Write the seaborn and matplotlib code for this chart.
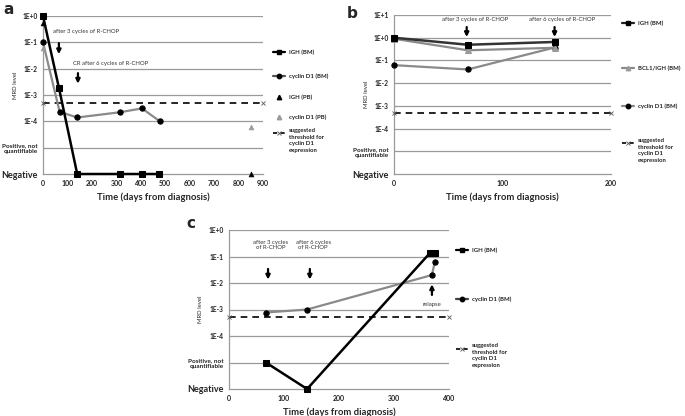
import numpy as np
import pandas as pd
import matplotlib
matplotlib.use('Agg')
import matplotlib.pyplot as plt
from matplotlib.lines import Line2D
import seaborn as sns

sns.set_theme(style='white')
plt.rcParams['font.family'] = ['Lato', 'DejaVu Sans']

# MRD values: numbers are levels, 'pos' = positive not quantifiable, 'neg' = negative
THRESHOLD = 5e-4

# panel a
a_igh_bm_days = [0, 65, 140, 315, 405, 475]
a_igh_bm = [1.0, 1.9e-3, 'neg', 'neg', 'neg', 'neg']
a_cyc_bm_days = [0, 68, 140, 313, 405, 478]
a_cyc_bm = [1e-1, 2.3e-4, 1.4e-4, 2.2e-4, 3.1e-4, 1.0e-4]
a_igh_pb_days = [0, 850]
a_igh_pb = [0.55, 'neg']
a_cyc_pb_days = [0, 850]
a_cyc_pb = [6e-2, 6e-5]

# panel b
b_igh_days = [0, 68, 148]
b_igh = [1.0, 0.49, 0.65]
b_bcl_days = [0, 68, 148]
b_bcl = [0.9, 0.28, 0.36]
b_cyc_days = [0, 68, 148]
b_cyc = [0.062, 0.04, 0.37]

# panel c
c_igh_days = [67, 142, 366, 374]
c_igh = ['pos', 'neg', 0.14, 0.13]
c_cyc_days = [67, 142, 369, 374]
c_cyc = [7.7e-4, 1.0e-3, 2.0e-2, 6.0e-2]

level_labels = ['Negative', 'Positive, not\nquantifiable', '1E-4', '1E-3', '1E-2', '1E-1', '1E+0', '1E+1']

BLACK = '#000000'
GRAY = '#8a8a8a'
GRID = '#9a9a9a'
W, H = 685, 416


def to_y(v):
    if v == 'neg':
        return -6
    if v == 'pos':
        return -5
    return np.log10(v)


def box(l, r, t, b):
    return [l / W, 1 - b / H, (r - l) / W, (b - t) / H]


def fpos(x, y):
    return (x / W, 1 - y / H)


def setup(ax, top, xmax, xstep):
    ax.set_xlim(0, xmax)
    ax.set_ylim(-6, top)
    levels = list(range(-6, top + 1))
    for lv in levels[1:]:
        ax.axhline(lv, color=GRID, lw=0.9, zorder=0)
    ax.set_yticks(levels)
    ax.set_yticklabels(level_labels[:len(levels)])
    for lab in ax.get_yticklabels():
        txt = lab.get_text()
        if txt == 'Negative':
            lab.set_fontsize(6.5)
        elif txt.startswith('Positive'):
            lab.set_fontsize(4.6)
        else:
            lab.set_fontsize(4.8)
        lab.set_fontweight('bold')
        lab.set_color('#222222')
    ax.set_xticks(np.arange(0, xmax + 1, xstep))
    ax.tick_params(axis='x', labelsize=5, length=2, width=0.6, color=GRID, pad=2)
    ax.tick_params(axis='y', length=2, width=0.6, color=GRID, pad=2)
    for lab in ax.get_xticklabels():
        lab.set_fontweight('bold')
        lab.set_color('#222222')
    for s in ['top', 'right']:
        ax.spines[s].set_visible(False)
    for s in ['left', 'bottom']:
        ax.spines[s].set_color(GRID)
        ax.spines[s].set_linewidth(0.9)
    ax.set_xlabel('Time (days from diagnosis)', fontsize=6.8, fontweight='bold', labelpad=4)
    ax.set_ylabel('MRD level', fontsize=4.3)
    ax.set_facecolor('white')
    thr = np.log10(THRESHOLD)
    ax.axhline(thr, ls=(0, (4, 3)), color=BLACK, lw=1.2, zorder=2)
    ax.plot([0, xmax], [thr, thr], 'x', color='#555555', ms=3, mew=0.6, clip_on=False, zorder=3)


def series(ax, days, vals, color, marker, mfc, lw=1.6):
    df = pd.DataFrame({'day': days, 'mrd': [to_y(v) for v in vals]})
    sns.lineplot(data=df, x='day', y='mrd', ax=ax, color=color, lw=lw, marker=marker,
                 markersize=3.8, markerfacecolor=mfc, markeredgecolor=mfc, sort=False,
                 zorder=4, clip_on=False)


def points(ax, days, vals, color):
    df = pd.DataFrame({'day': days, 'mrd': [to_y(v) for v in vals]})
    sns.scatterplot(data=df, x='day', y='mrd', ax=ax, color=color, marker='^', s=12,
                    edgecolor=color, linewidth=0.5, zorder=5, clip_on=False)


def arrow(ax, x, y0, y1):
    ax.annotate('', xy=(x, y1), xytext=(x, y0),
                arrowprops=dict(arrowstyle='-|>', lw=1.6, color=BLACK, mutation_scale=6,
                                shrinkA=0, shrinkB=0))


def legend_entry(fig, xh, y, label, color, marker=None, mfc=None, ls='-', lw=1.6):
    x0, y0 = fpos(xh, y)
    x1, _ = fpos(xh + 12, y)
    fig.add_artist(Line2D([x0, x1], [y0, y0], color=color, lw=lw, ls=ls,
                          transform=fig.transFigure))
    if marker:
        fig.add_artist(Line2D([(x0 + x1) / 2], [y0], color=mfc, marker=marker, ms=3.2,
                              ls='none', transform=fig.transFigure))
    tx, _ = fpos(xh + 16, y)
    fig.text(tx, y0, label, fontsize=4.3, fontweight='bold', va='center', ha='left',
             color='#222222', linespacing=1.3)


def legend_thr(fig, xh, y, txty):
    x0, y0 = fpos(xh, y)
    x1, _ = fpos(xh + 12, y)
    fig.add_artist(Line2D([x0, x1], [y0, y0], color=BLACK, lw=1.2, ls=(0, (2.5, 2)),
                          transform=fig.transFigure))
    fig.add_artist(Line2D([(x0 + x1) / 2], [y0], color='#555555', marker='x', ms=3, mew=0.6,
                          ls='none', transform=fig.transFigure))
    tx, ty = fpos(xh + 16, txty)
    fig.text(tx, ty, 'suggested\nthreshold for\ncyclin D1\nexpression', fontsize=4.3,
             fontweight='bold', va='top', ha='left', color='#222222', linespacing=1.4)


fig = plt.figure(figsize=(6.85, 4.16), dpi=100)
fig.patch.set_facecolor('white')

# ---- panel a
ax_a = fig.add_axes(box(43, 263, 16, 174))
setup(ax_a, 0, 900, 100)
series(ax_a, a_cyc_bm_days, a_cyc_bm, GRAY, 'o', BLACK)
series(ax_a, a_igh_bm_days, a_igh_bm, BLACK, 's', BLACK, lw=1.8)
points(ax_a, a_igh_pb_days, a_igh_pb, BLACK)
points(ax_a, a_cyc_pb_days, a_cyc_pb, '#9a9a9a')
ax_a.text(41, -0.6, 'after 3 cycles of R-CHOP', fontsize=4.3, color='#333333', va='center')
ax_a.text(123, -1.8, 'CR after 6 cycles of R-CHOP', fontsize=4.3, color='#333333', va='center')
arrow(ax_a, 65, -1.03, -1.45)
arrow(ax_a, 143, -2.17, -2.57)
ax_a.yaxis.set_label_coords(-0.115, 0.56)

legend_entry(fig, 273, 52, 'IGH (BM)', BLACK, 's', BLACK)
legend_entry(fig, 273, 76, 'cyclin D1 (BM)', '#555555', 'o', BLACK)
legend_entry(fig, 273, 97, 'IGH (PB)', 'none', '^', BLACK)
legend_entry(fig, 273, 117, 'cyclin D1 (PB)', 'none', '^', '#9a9a9a')
legend_thr(fig, 273, 133, 128)

# ---- panel b
ax_b = fig.add_axes(box(394, 611, 15, 174))
setup(ax_b, 1, 200, 100)
series(ax_b, b_cyc_days, b_cyc, GRAY, 'o', BLACK)
series(ax_b, b_bcl_days, b_bcl, GRAY, '^', '#9a9a9a')
series(ax_b, b_igh_days, b_igh, '#333333', 's', BLACK, lw=1.8)
ax_b.text(75, 0.82, 'after 3 cycles of R-CHOP', fontsize=4.3, color='#333333', ha='center', va='center')
ax_b.text(155, 0.82, 'after 6 cycles of R-CHOP', fontsize=4.3, color='#333333', ha='center', va='center')
arrow(ax_b, 67, 0.47, 0.03)
arrow(ax_b, 148, 0.47, 0.03)
ax_b.yaxis.set_label_coords(-0.115, 0.5)

legend_entry(fig, 622, 23, 'IGH (BM)', '#222222', 's', BLACK)
legend_entry(fig, 622, 68, 'BCL1/IGH (BM)', GRAY, '^', '#9a9a9a')
legend_entry(fig, 622, 106, 'cyclin D1 (BM)', GRAY, 'o', BLACK)
legend_thr(fig, 622, 143, 138)

# ---- panel c
ax_c = fig.add_axes(box(229, 449, 230, 389))
setup(ax_c, 0, 400, 100)
series(ax_c, c_cyc_days, c_cyc, GRAY, 'o', BLACK)
series(ax_c, c_igh_days, c_igh, BLACK, 's', BLACK, lw=1.8)
ax_c.text(75, -0.57, 'after 3 cycles\nof R-CHOP', fontsize=4.3, color='#333333', ha='center', va='center', linespacing=1.0)
ax_c.text(153, -0.57, 'after 6 cycles\nof R-CHOP', fontsize=4.3, color='#333333', ha='center', va='center', linespacing=1.0)
arrow(ax_c, 71, -1.47, -1.87)
arrow(ax_c, 147, -1.47, -1.87)
arrow(ax_c, 369, -2.45, -2.05)
ax_c.text(369, -2.8, 'relapse', fontsize=4.3, color='#333333', ha='center', va='center')
ax_c.yaxis.set_label_coords(-0.12, 0.5)

legend_entry(fig, 456, 250, 'IGH (BM)', BLACK, 's', BLACK)
legend_entry(fig, 456, 299, 'cyclin D1 (BM)', '#444444', 'o', BLACK)
legend_thr(fig, 456, 349, 343)

for lab, (x, y) in zip(['a', 'b', 'c'], [(3, 10), (347, 14), (186, 224)]):
    tx, ty = fpos(x, y)
    fig.text(tx, ty, lab, fontsize=11, fontweight='bold', va='center', ha='left', family='DejaVu Sans')

fig.savefig('out.png', dpi=100, facecolor='white')
